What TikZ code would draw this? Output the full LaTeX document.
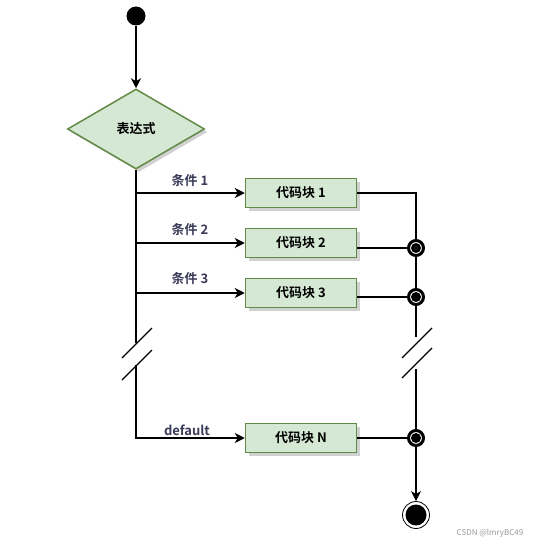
\documentclass[tikz,border=0pt]{standalone}
\usepackage{fontspec}
\setmainfont{Noto Sans CJK SC}[BoldFont={Noto Sans CJK SC Bold}]
\usetikzlibrary{arrows.meta, shapes.geometric, shadows}
\definecolor{blockfill}{HTML}{D5E8D4}
\definecolor{blockline}{HTML}{628A47}
\definecolor{labeltext}{HTML}{3A3A58}

\begin{document}
\begin{tikzpicture}[x=1pt, y=-1pt, line width=1.3pt,
        flow/.style={-{Stealth[length=10pt, width=10pt, inset=3pt]}},
        boxshadow/.style={drop shadow={shadow xshift=3pt, shadow yshift=-3pt, fill=black!30, opacity=0.6}},
        block/.style={draw=blockline, fill=blockfill, boxshadow, line width=1.5pt, minimum width=111pt, minimum height=29pt, inner sep=0pt, font=\bfseries\fontsize{13}{15}\selectfont},
        decision/.style={diamond, draw=blockline, fill=blockfill, boxshadow, line width=1.5pt, aspect=1.7, minimum width=137pt, minimum height=80pt, inner sep=0pt, font=\bfseries\fontsize{13}{15}\selectfont},
        cond/.style={text=labeltext, inner sep=0pt, font=\bfseries\fontsize{13}{15}\selectfont},
        startdot/.style={circle, fill=black, minimum size=19pt, inner sep=0pt},
        junction/.style={circle, draw=black, line width=3pt, fill=white, minimum size=15pt, inner sep=0pt,
            path picture={\fill[black] (path picture bounding box.center) circle (5pt);}},
        enddot/.style={circle, draw=black, line width=0.8pt, fill=white, minimum size=27pt, inner sep=0pt,
            path picture={\fill[black] (path picture bounding box.center) circle (10.5pt);}}]
        \useasboundingbox (0,0) rectangle (533,543);
        \node[startdot] (start) at (136,16) {};
        \node[decision] (expr) at (136,129) {表达式};
        \node[block] (b1) at (301,193) {代码块 1};
        \node[block] (b2) at (301,243) {代码块 2};
        \node[block] (b3) at (301,293) {代码块 3};
        \node[block] (bN) at (301,438) {代码块 N};
        \node[cond] (c1) at (190,181) {条件 1};
        \node[cond] (c2) at (190,230) {条件 2};
        \node[cond] (c3) at (190,279) {条件 3};
        \node[cond] (cN) at (187,430) {default};
        \node[junction] (j2) at (416,248) {};
        \node[junction] (j3) at (416,297) {};
        \node[junction] (jN) at (416,438) {};
        \node[enddot] (end) at (416,515) {};
        \coordinate (lbreaktop) at (136,343);
        \coordinate (lbreakbot) at (136,365);
        \coordinate (lcorner) at (136,438);
        \coordinate (rturn) at (416,193);
        \coordinate (rbreaktop) at (416,337);
        \coordinate (rbreakbot) at (416,369);
        \draw[flow] (start) -- (expr);
        \draw (expr.south) -- (lbreaktop);
        \draw[flow] (expr.south |- b1) -- (b1.west);
        \draw[flow] (expr.south |- b2) -- (b2.west);
        \draw[flow] (expr.south |- b3) -- (b3.west);
        \draw[flow] (lbreakbot) -- (lcorner) -- (bN.west);
        \draw (122,358) -- (152,328);
        \draw (122,380) -- (152,350);
        \draw (402,358) -- (432,328);
        \draw (402,378) -- (432,348);
        \draw (b1.east) -- (rturn) -- (j2);
        \draw (b2.east |- j2) -- (j2);
        \draw (j2) -- (j3);
        \draw (b3.east |- j3) -- (j3);
        \draw (j3) -- (rbreaktop);
        \draw (rbreakbot) -- (jN);
        \draw (bN.east) -- (jN);
        \draw[flow] (jN) -- (end);
        \node[text=black!40, font=\fontsize{8}{9}\selectfont] (mark) at (490,533) {CSDN @lmryBC49};
    \end{tikzpicture}
\end{document}
